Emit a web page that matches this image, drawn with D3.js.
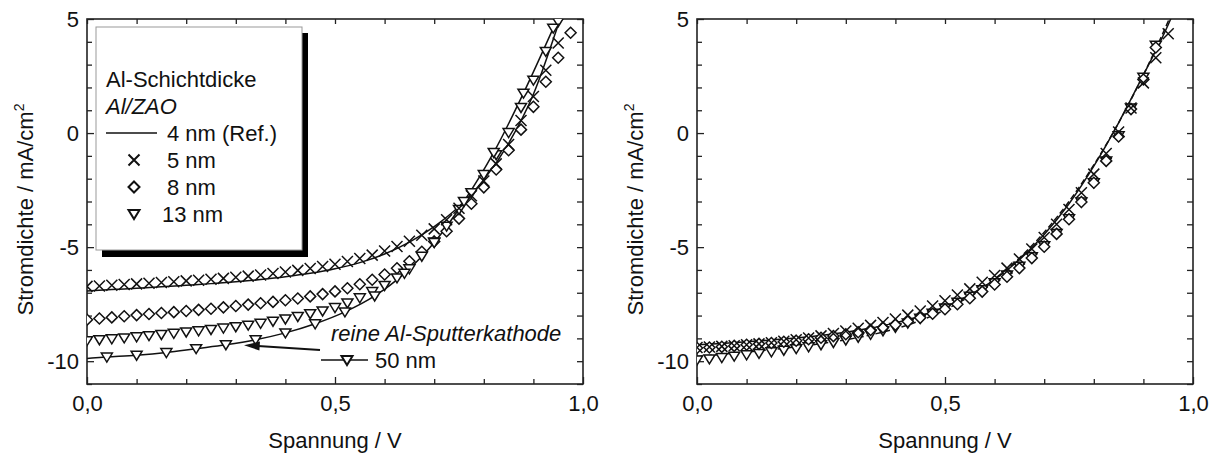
<!DOCTYPE html>
<html>
<head>
<meta charset="utf-8">
<script src="https://cdn.jsdelivr.net/npm/d3@7"></script>
<style>
  body { margin: 0; background: #fff; }
  text { font-family: Arial, "Liberation Sans", sans-serif; fill: #111; }
</style>
</head>
<body>
<script>
// voltage grid of the measured points (V)
const vGrid = [0.000, 0.025, 0.050, 0.075, 0.100, 0.125, 0.150, 0.175, 0.200, 0.225,
  0.250, 0.275, 0.300, 0.325, 0.350, 0.375, 0.400, 0.425, 0.450, 0.475,
  0.500, 0.525, 0.550, 0.575, 0.600, 0.625, 0.650, 0.675, 0.700, 0.725,
  0.750, 0.775, 0.800, 0.825, 0.850, 0.875, 0.900, 0.925, 0.950, 0.975]
const vLine = [0.00, 0.05, 0.10, 0.15, 0.20, 0.25, 0.30, 0.35, 0.40, 0.45,
  0.50, 0.55, 0.60, 0.65, 0.70, 0.75, 0.80, 0.85, 0.90, 0.95, 0.96]

// left panel: Al/ZAO
const ref4Left = [-6.92, -6.86, -6.80, -6.74, -6.67, -6.60, -6.52, -6.42, -6.30, -6.15,
  -5.95, -5.68, -5.30, -4.78, -4.10, -3.22, -2.05, -0.45, 1.70, 4.75, 5.40]
const cross5Left = [-6.72, -6.70, -6.67, -6.64, -6.61, -6.58, -6.55, -6.52, -6.48, -6.45,
  -6.41, -6.37, -6.32, -6.27, -6.22, -6.16, -6.09, -6.02, -5.94, -5.85,
  -5.75, -5.63, -5.50, -5.35, -5.17, -4.97, -4.74, -4.48, -4.20, -3.80,
  -3.30, -2.75, -2.10, -1.35, -0.50, 0.55, 1.60, 2.75, 3.95]
const diam8Left = [-8.18, -8.13, -8.08, -8.03, -7.98, -7.93, -7.89, -7.85, -7.80, -7.75,
  -7.70, -7.64, -7.58, -7.52, -7.46, -7.40, -7.33, -7.25, -7.16, -7.06,
  -6.94, -6.80, -6.63, -6.43, -6.20, -5.93, -5.62, -5.20, -4.75, -4.30,
  -3.75, -3.10, -2.38, -1.60, -0.75, 0.15, 1.15, 2.25, 3.30, 4.40]
const tri13Left = [-9.10, -9.06, -9.02, -8.98, -8.93, -8.88, -8.83, -8.78, -8.72, -8.67,
  -8.61, -8.55, -8.49, -8.42, -8.34, -8.25, -8.15, -8.04, -7.92, -7.80,
  -7.65, -7.45, -7.22, -6.95, -6.68, -6.35, -5.95, -5.40, -4.78, -4.08,
  -3.35, -2.62, -1.82, -0.95, 0.02, 1.12, 2.32, 3.58, 4.88]
const v50 = [0.00, 0.04, 0.10, 0.16, 0.22, 0.28, 0.34, 0.40, 0.46, 0.52,
  0.58, 0.64, 0.70, 0.76, 0.82, 0.88, 0.94]
const sputter50 = [-9.88, -9.82, -9.74, -9.62, -9.45, -9.28, -9.06, -8.76, -8.36, -7.84,
  -7.14, -6.15, -4.80, -3.00, -0.85, 1.75, 4.60]

// right panel
const solidRight = [-9.28, -9.22, -9.15, -9.07, -8.98, -8.87, -8.73, -8.55, -8.32, -8.02,
  -7.62, -7.10, -6.42, -5.55, -4.45, -3.10, -1.45, 0.45, 2.55, 4.75, 5.25]
const dashRight = [-9.80, -9.70, -9.60, -9.49, -9.37, -9.23, -9.06, -8.85, -8.58, -8.22,
  -7.75, -7.15, -6.40, -5.48, -4.35, -3.00, -1.40, 0.45, 2.55, 4.90, 5.40]
const cross5Right = [-9.40, -9.38, -9.35, -9.32, -9.28, -9.24, -9.19, -9.13, -9.06, -8.98,
  -8.89, -8.79, -8.68, -8.56, -8.43, -8.30, -8.15, -7.98, -7.80, -7.58,
  -7.35, -7.10, -6.83, -6.54, -6.24, -5.92, -5.52, -5.08, -4.58, -4.00,
  -3.35, -2.62, -1.80, -0.90, 0.05, 1.10, 2.20, 3.30, 4.35]
const diam8Right = [-9.42, -9.40, -9.37, -9.33, -9.28, -9.24, -9.20, -9.15, -9.10, -9.04,
  -8.97, -8.90, -8.82, -8.73, -8.63, -8.52, -8.40, -8.26, -8.10, -7.92,
  -7.72, -7.50, -7.24, -6.95, -6.64, -6.30, -5.92, -5.48, -4.98, -4.42,
  -3.78, -3.02, -2.18, -1.22, -0.15, 1.05, 2.35, 3.75]
const tri13Right = [-9.95, -9.90, -9.84, -9.78, -9.72, -9.66, -9.59, -9.52, -9.45, -9.37,
  -9.28, -9.18, -9.07, -8.95, -8.82, -8.67, -8.52, -8.33, -8.12, -7.90,
  -7.67, -7.42, -7.15, -6.87, -6.56, -6.22, -5.84, -5.42, -4.94, -4.40,
  -3.76, -3.02, -2.18, -1.22, -0.12, 1.10, 2.45, 3.85]

const xMajor = [0, 0.5, 1.0]
const xMinor = [0.1, 0.2, 0.3, 0.4, 0.6, 0.7, 0.8, 0.9]
const yMajor = [-10, -5, 0, 5]
const yMinor = [-11, -9, -8, -7, -6, -4, -3, -2, -1, 1, 2, 3, 4]
const legendRows = ['4 nm (Ref.)', '5 nm', '8 nm', '13 nm']

const W = 1219
const H = 453
const plotTop = 19
const plotBottom = 384
const fs = '22px'

const svg = d3.select('body').append('svg')
  .attr('width', W)
  .attr('height', H)
  .style('background-color', '#fff')

const pair = (xs, ys) => ys.map((v, i) => ({ v: xs[i], j: v }))

const shapes = {
  cross: 'M-5.5,-5.5L5.5,5.5M-5.5,5.5L5.5,-5.5',
  diamond: 'M0,-5.5L5.5,0L0,5.5L-5.5,0Z',
  tri: 'M-5.5,-4L5.5,-4L0,5Z'
}

const yScale = d3.scaleLinear().domain([-11, 5]).range([plotBottom, plotTop])
const fmtX = d => d3.format('.1f')(d).replace('.', ',')

function panel (id, left, right) {
  const x = d3.scaleLinear().domain([0, 1]).range([left, right])
  const g = svg.append('g')

  g.append('clipPath').attr('id', id)
    .append('rect')
    .attr('x', left).attr('y', plotTop)
    .attr('width', right - left).attr('height', plotBottom - plotTop)

  const ax = (sel) => sel.call(s => s.select('.domain').remove())
    .attr('font-size', null).attr('font-family', null)

  // bottom + top
  g.append('g').attr('transform', `translate(0,${plotBottom})`)
    .call(d3.axisBottom(x).tickValues(xMinor).tickSize(-5).tickFormat(''))
    .call(ax)
  g.append('g').attr('transform', `translate(0,${plotBottom})`)
    .call(d3.axisBottom(x).tickValues(xMajor).tickSize(-7).tickPadding(11).tickFormat(fmtX))
    .call(ax)
  g.append('g').attr('transform', `translate(0,${plotTop})`)
    .call(d3.axisTop(x).tickValues(xMinor.concat(xMajor)).tickSize(-5).tickFormat(''))
    .call(ax)
  // left + right
  g.append('g').attr('transform', `translate(${left},0)`)
    .call(d3.axisLeft(yScale).tickValues(yMinor).tickSize(-5).tickFormat(''))
    .call(ax)
  g.append('g').attr('transform', `translate(${left},0)`)
    .call(d3.axisLeft(yScale).tickValues(yMajor).tickSize(-7).tickPadding(8).tickFormat(d => String(d)))
    .call(ax)
  g.append('g').attr('transform', `translate(${right},0)`)
    .call(d3.axisRight(yScale).tickValues(yMinor.concat(yMajor)).tickSize(-6).tickFormat(''))
    .call(ax)

  g.selectAll('.tick line').attr('stroke', '#222').attr('stroke-width', 1.3)
  g.selectAll('.tick text').style('font-size', fs).attr('fill', '#111')

  g.append('rect')
    .attr('x', left).attr('y', plotTop)
    .attr('width', right - left).attr('height', plotBottom - plotTop)
    .attr('fill', 'none').attr('stroke', '#222').attr('stroke-width', 1.6)

  g.append('text')
    .attr('x', (left + right) / 2).attr('y', 448)
    .attr('text-anchor', 'middle')
    .style('font-size', fs)
    .text('Spannung / V')

  const yt = g.append('text')
    .attr('transform', `translate(${left - 54},${(plotTop + plotBottom) / 2 + 8}) rotate(-90)`)
    .attr('text-anchor', 'middle')
    .style('font-size', fs)
  yt.append('tspan').text('Stromdichte / mA/cm')
  yt.append('tspan').attr('dy', -9).style('font-size', '14px').text('2')

  const plot = g.append('g').attr('clip-path', `url(#${id})`)
  return { x, plot }
}

const line = x => d3.line()
  .x(d => x(d.v))
  .y(d => yScale(d.j))
  .curve(d3.curveMonotoneX)

function drawLine (p, data, dash) {
  p.plot.append('path')
    .datum(data)
    .attr('d', line(p.x))
    .attr('fill', 'none')
    .attr('stroke', '#111')
    .attr('stroke-width', 1.5)
    .attr('stroke-dasharray', dash || null)
}

function drawMarks (p, data, shape) {
  p.plot.selectAll(null)
    .data(data)
    .enter().append('path')
    .attr('transform', d => `translate(${p.x(d.v)},${yScale(d.j)})`)
    .attr('d', shapes[shape])
    .attr('fill', shape === 'cross' ? 'none' : '#fff')
    .attr('stroke', '#111')
    .attr('stroke-width', 1.5)
}

// left panel
const pl = panel('clipL', 87, 583)
drawLine(pl, pair(vLine, ref4Left))
drawLine(pl, pair(v50, sputter50))
drawMarks(pl, pair(vGrid, diam8Left), 'diamond')
drawMarks(pl, pair(vGrid, tri13Left), 'tri')
drawMarks(pl, pair(vGrid, cross5Left), 'cross')
drawMarks(pl, pair(v50, sputter50).slice(1), 'tri')

// right panel
const pr = panel('clipR', 697, 1193)
drawLine(pr, pair(vLine, dashRight), '6,3')
drawLine(pr, pair(vLine, solidRight))
drawMarks(pr, pair(vGrid, tri13Right), 'tri')
drawMarks(pr, pair(vGrid, diam8Right), 'diamond')
drawMarks(pr, pair(vGrid, cross5Right), 'cross')

// legend box with shadow
const lg = svg.append('g')
lg.append('rect').attr('x', 102).attr('y', 33).attr('width', 206).attr('height', 224).attr('fill', '#000')
lg.append('rect').attr('x', 96).attr('y', 27).attr('width', 206).attr('height', 223)
  .attr('fill', '#fff').attr('stroke', '#999').attr('stroke-width', 1)

lg.append('text').attr('x', 106).attr('y', 87).style('font-size', fs).text('Al-Schichtdicke')
lg.append('text').attr('x', 106).attr('y', 114).style('font-size', fs).style('font-style', 'italic').text('Al/ZAO')

const legendShapes = [null, 'cross', 'diamond', 'tri']
legendRows.forEach((label, i) => {
  const cy = 133 + i * 27
  if (i === 0) {
    lg.append('line').attr('x1', 106).attr('x2', 157).attr('y1', cy).attr('y2', cy)
      .attr('stroke', '#111').attr('stroke-width', 1.5)
  } else {
    lg.append('path').attr('transform', `translate(134,${cy})`)
      .attr('d', shapes[legendShapes[i]])
      .attr('fill', 'none').attr('stroke', '#111').attr('stroke-width', 2)
  }
  lg.append('text').attr('x', i === 3 ? 162 : 167).attr('y', cy + 8)
    .style('font-size', fs).text(label)
})

// annotation for the sputtered cathode
const an = svg.append('g')
an.append('text').attr('x', 331).attr('y', 341)
  .style('font-size', fs).style('font-style', 'italic')
  .text('reine Al-Sputterkathode')
an.append('line').attr('x1', 321).attr('x2', 368).attr('y1', 360).attr('y2', 360)
  .attr('stroke', '#111').attr('stroke-width', 1.5)
an.append('path').attr('transform', 'translate(347,360)').attr('d', shapes.tri)
  .attr('fill', '#fff').attr('stroke', '#111').attr('stroke-width', 2)
an.append('text').attr('x', 375).attr('y', 368).style('font-size', fs).text('50 nm')
an.append('line').attr('x1', 320).attr('y1', 350).attr('x2', 258).attr('y2', 346)
  .attr('stroke', '#111').attr('stroke-width', 2)
an.append('path').attr('d', 'M244,345.2L260,341.5L259.4,350.5Z').attr('fill', '#111')
</script>
</body>
</html>
